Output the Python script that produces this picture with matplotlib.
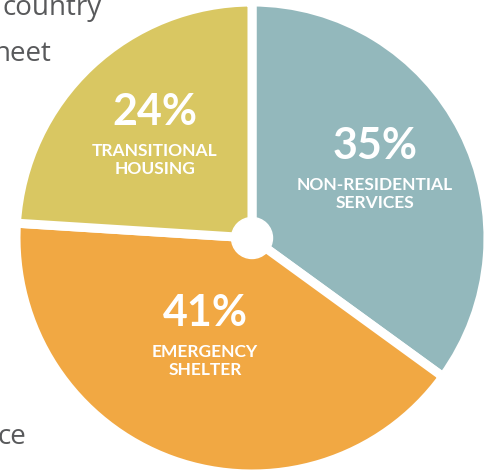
import matplotlib.pyplot as plt

# Dane wykresu
kategorie = ['NON-RESIDENTIAL\nSERVICES', 'EMERGENCY\nSHELTER', 'TRANSITIONAL\nHOUSING']
udzialy = [35, 41, 24]
kolory = ['#93B8BC', '#F1A843', '#D9C762']
etykiety_proc = ['35%', '41%', '24%']

W, H = 491, 475
fig = plt.figure(figsize=(W / 100, H / 100), dpi=100)
ax = fig.add_axes([0, 0, 1, 1])

srodek = (252, H - 238)
promien = 236

ax.pie(udzialy, colors=kolory, startangle=90, counterclock=False,
       center=srodek, radius=promien, frame=True,
       wedgeprops=dict(edgecolor='white', linewidth=6.5))
ax.set_xlim(0, W)
ax.set_ylim(0, H)
ax.set_aspect('equal')
ax.axis('off')

# biale kolko w srodku
ax.add_patch(plt.Circle(srodek, 20.5, color='white', zorder=5))

# pozycje etykiet (piksele od gory)
pozycje = [(375, 146), (205, 313), (155, 112)]
for (x, y), proc, nazwa in zip(pozycje, etykiety_proc, kategorie):
    ax.text(x, H - y, proc, ha='center', va='center', color='white',
            fontsize=31, fontweight='bold', family='Lato', zorder=6)
    ax.text(x, H - y - 48, nazwa, ha='center', va='center', color='white',
            fontsize=12.5, fontweight='bold', family='Lato', linespacing=1.2, zorder=6)

# fragmenty tekstu z otoczenia (uciete na krawedzi, jak w oryginale)
for tekst, x, y in [('country', 3, 15), ('neet', -6, 61), ('ce', -3, 444)]:
    ax.text(x, H - y, tekst, ha='left', va='baseline', color='#58595B',
            fontsize=20, family='Open Sans', zorder=6)

fig.savefig('out.png', dpi=100)
